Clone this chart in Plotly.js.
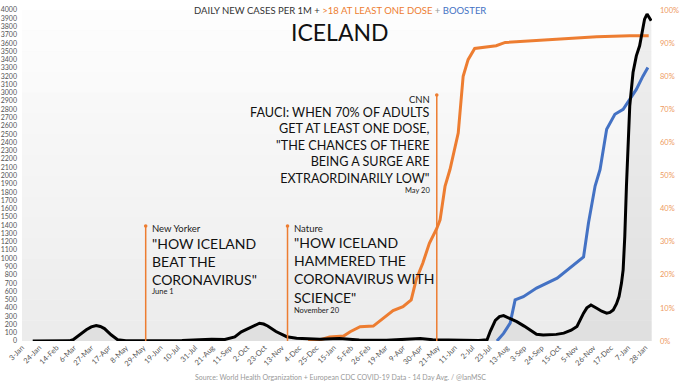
<!DOCTYPE html>
<html><head><meta charset="utf-8">
<script src="https://cdn.plot.ly/plotly-3.0.1.min.js"></script>
<style>html,body{margin:0;padding:0;background:#fff;} #chart{width:680px;height:383px;}</style>
</head><body><div id="chart"></div>
<script>
// ---- DATA ----
const caseDates = ['2020-01-16','2020-02-29','2020-03-05','2020-03-10','2020-03-15','2020-03-21','2020-03-27','2020-04-02','2020-04-07','2020-04-12','2020-04-20','2020-04-28','2020-05-08','2020-06-15','2020-07-15','2020-08-05','2020-08-20','2020-09-05','2020-09-17','2020-09-25','2020-10-05','2020-10-12','2020-10-17','2020-10-22','2020-10-27','2020-11-06','2020-11-19','2020-12-01','2020-12-29','2021-01-22','2021-02-15','2021-03-20','2021-04-10','2021-04-30','2021-05-15','2021-06-15','2021-07-10','2021-07-20','2021-07-24','2021-07-30','2021-08-04','2021-08-09','2021-08-15','2021-08-25','2021-09-03','2021-09-10','2021-09-18','2021-09-26','2021-10-04','2021-10-12','2021-10-21','2021-10-30','2021-11-06','2021-11-10','2021-11-14','2021-11-18','2021-11-23','2021-11-30','2021-12-06','2021-12-12','2021-12-16','2021-12-20','2021-12-24','2021-12-27','2021-12-30','2022-01-01','2022-01-03','2022-01-05','2022-01-07','2022-01-09','2022-01-13','2022-01-17','2022-01-21','2022-01-24','2022-01-27','2022-01-30','2022-02-01','2022-02-04'];
const casesPerM = [0,2,15,52,95,135,170,188,175,150,75,15,3,2,5,15,22,18,50,110,155,195,215,205,182,115,52,32,20,30,12,8,15,30,15,5,5,15,120,250,295,307,280,234,180,133,81,72,73,80,95,130,175,260,336,400,436,396,360,336,345,376,450,537,700,860,1264,1870,2350,2839,3244,3446,3567,3729,3890,3951,3911,3870];

const doseDates = ['2020-12-15','2020-12-29','2021-01-10','2021-01-27','2021-02-04','2021-02-16','2021-03-04','2021-03-16','2021-03-28','2021-04-09','2021-04-19','2021-04-25','2021-05-03','2021-05-11','2021-05-20','2021-05-24','2021-05-30','2021-06-05','2021-06-15','2021-06-21','2021-06-27','2021-07-05','2021-07-31','2021-08-11','2021-09-10','2021-10-21','2021-11-30','2022-01-09','2022-02-01'];
const dosePct = [0,0.3,1.2,1.5,2.8,4.3,4.5,6.9,9.2,10.4,12.4,18.5,23.5,29.5,34,36.6,46.7,51.8,62.8,80,85,88.4,89.2,90.2,90.7,91.4,91.9,92.2,92.2];

const boosterDates = ['2021-08-01','2021-08-09','2021-08-17','2021-08-23','2021-09-02','2021-09-18','2021-10-13','2021-10-25','2021-11-14','2021-11-20','2021-11-28','2021-12-04','2021-12-12','2021-12-22','2022-01-01','2022-01-09','2022-01-17','2022-01-25','2022-01-31'];
const boosterPct = [0,2.3,5.4,12.4,13.4,16,19,21.5,25.4,35.7,46.8,51.8,64,68.5,70,73,76,80,82.6];

const eventDates = ['2020-06-01','2020-11-20','2021-05-20'];
const eventSources = ['New Yorker','Nature','CNN'];
const eventHeadlines = ['"HOW ICELAND<br>BEAT THE<br>CORONAVIRUS"','"HOW ICELAND<br>HAMMERED THE<br>CORONAVIRUS WITH<br>SCIENCE"','FAUCI: WHEN 70% OF ADULTS<br>GET AT LEAST ONE DOSE,<br>"THE CHANCES OF THERE<br>BEING A SURGE ARE<br>EXTRAORDINARILY LOW"'];
const eventDateLabels = ['June 1','November 20','May 20'];

const titleParts = ['DAILY NEW CASES PER 1M + ','&gt;18 AT LEAST ONE DOSE',' + ','BOOSTER'];
const countryName = 'ICELAND';
const sourceText = 'Source: World Health Organization + European CDC COVID-19 Data - 14 Day Avg. / @IanMSC';

// ---- STYLE / LAYOUT ----
const ORANGE = '#ED7D31', BLUE = '#4472C4';
const FONT = 'Lato, "Open Sans", sans-serif';
const py = p => (341 - p) / 331; // pixel -> paper y

const traces = [
  {x: caseDates, y: casesPerM, yaxis: 'y', mode: 'lines', line: {width: 0, color: 'rgba(0,0,0,0)'},
   fill: 'tozeroy', fillcolor: 'rgba(150,150,150,0.13)', hoverinfo: 'skip', showlegend: false},
  {x: doseDates, y: dosePct, yaxis: 'y2', mode: 'lines', line: {color: ORANGE, width: 3}, showlegend: false},
  {x: boosterDates, y: boosterPct, yaxis: 'y2', mode: 'lines', line: {color: BLUE, width: 3}, showlegend: false},
  {x: caseDates, y: casesPerM, yaxis: 'y3', mode: 'lines', line: {color: '#000', width: 3}, showlegend: false}
];

const shapes = [];
const nb = 16;
for (let i = 0; i < nb; i++) {
  const t = i / (nb - 1);
  const c = Math.round(236 + (253 - 236) * t);
  shapes.push({type: 'rect', xref: 'paper', yref: 'paper', x0: 0, x1: 1, y0: i / nb, y1: (i + 1) / nb,
    fillcolor: `rgb(${c},${c},${c})`, line: {width: 0}, layer: 'below'});
}
const lineTops = [226, 226, 95];
eventDates.forEach((d, i) => {
  shapes.push({type: 'line', xref: 'x', yref: 'paper', x0: d, x1: d, y0: 0, y1: py(lineTops[i]),
    line: {color: ORANGE, width: 1.5}});
  shapes.push({type: 'circle', xref: 'x', yref: 'paper', xsizemode: 'pixel', ysizemode: 'pixel',
    xanchor: d, yanchor: py(lineTops[i]), x0: -1.8, x1: 1.8, y0: -1.8, y1: 1.8,
    fillcolor: ORANGE, line: {width: 0}});
});

const anns = [];
// title
anns.push({xref: 'paper', yref: 'paper', x: 0.504, y: py(11), xanchor: 'center', yanchor: 'middle', showarrow: false,
  text: `<span style="color:#333">${titleParts[0]}</span><span style="color:${ORANGE}">${titleParts[1]}</span><span style="color:#999">${titleParts[2]}</span><span style="color:${BLUE}">${titleParts[3]}</span>`,
  font: {family: FONT, size: 9.5}});
anns.push({xref: 'paper', yref: 'paper', x: 0.504, y: py(32), xanchor: 'center', yanchor: 'middle', showarrow: false,
  text: countryName, font: {family: FONT, size: 23, color: '#111'}});
anns.push({xref: 'paper', yref: 'paper', x: 0.505, y: py(376.5), xanchor: 'center', yanchor: 'middle', showarrow: false,
  text: sourceText, font: {family: FONT, size: 7, color: '#999'}});

// events
const evPos = [
  {src: 228.3, head: 261.2, date: 291.7, side: 'left', hs: 14},
  {src: 228.3, head: 270.3, date: 310, side: 'left', hs: 14},
  {src: 99.3, head: 145.7, date: 190, side: 'right', hs: 12.6}
];
eventDates.forEach((d, i) => {
  const p = evPos[i];
  const xs = p.side === 'left' ? 4 : -5;
  const al = p.side;
  anns.push({xref: 'x', yref: 'paper', x: d, y: py(p.src), xanchor: al, yanchor: 'middle', xshift: xs, showarrow: false,
    text: eventSources[i], align: al, font: {family: FONT, size: 9.5, color: '#222'}});
  anns.push({xref: 'x', yref: 'paper', x: d, y: py(p.head), xanchor: al, yanchor: 'middle', xshift: xs, showarrow: false,
    text: eventHeadlines[i], align: al, font: {family: FONT, size: p.hs, color: '#111'}});
  anns.push({xref: 'x', yref: 'paper', x: d, y: py(p.date), xanchor: al, yanchor: 'middle', xshift: xs, showarrow: false,
    text: eventDateLabels[i], align: al, font: {family: FONT, size: 7.5, color: '#222'}});
});

const layout = {
  width: 680, height: 383,
  margin: {l: 22, r: 28, t: 10, b: 42},
  paper_bgcolor: '#fff', plot_bgcolor: '#f5f5f5',
  font: {family: FONT, color: '#555'},
  showlegend: false,
  xaxis: {type: 'date', range: ['2020-01-03', '2022-02-05'], tick0: '2020-01-03', dtick: 21 * 864e5,
    tickformat: '%-d-%b', tickangle: -45, tickfont: {size: 7.5, color: '#555'},
    showgrid: false, zeroline: false, showline: false, ticks: ''},
  yaxis: {range: [0, 4000], dtick: 100, side: 'left', tickfont: {size: 7, color: '#555'},
    showgrid: false, zeroline: false, ticks: '', ticklabelstandoff: 4},
  yaxis2: {overlaying: 'y', side: 'right', range: [0, 100], dtick: 10, ticksuffix: '%',
    tickfont: {size: 7.5, color: '#EE9A62'}, showgrid: false, zeroline: false, ticks: '', ticklabelstandoff: 7},
  yaxis3: {overlaying: 'y', range: [0, 4000], visible: false},
  shapes: shapes,
  annotations: anns
};

Plotly.newPlot('chart', traces, layout, {displayModeBar: false, staticPlot: true});
</script></body></html>
